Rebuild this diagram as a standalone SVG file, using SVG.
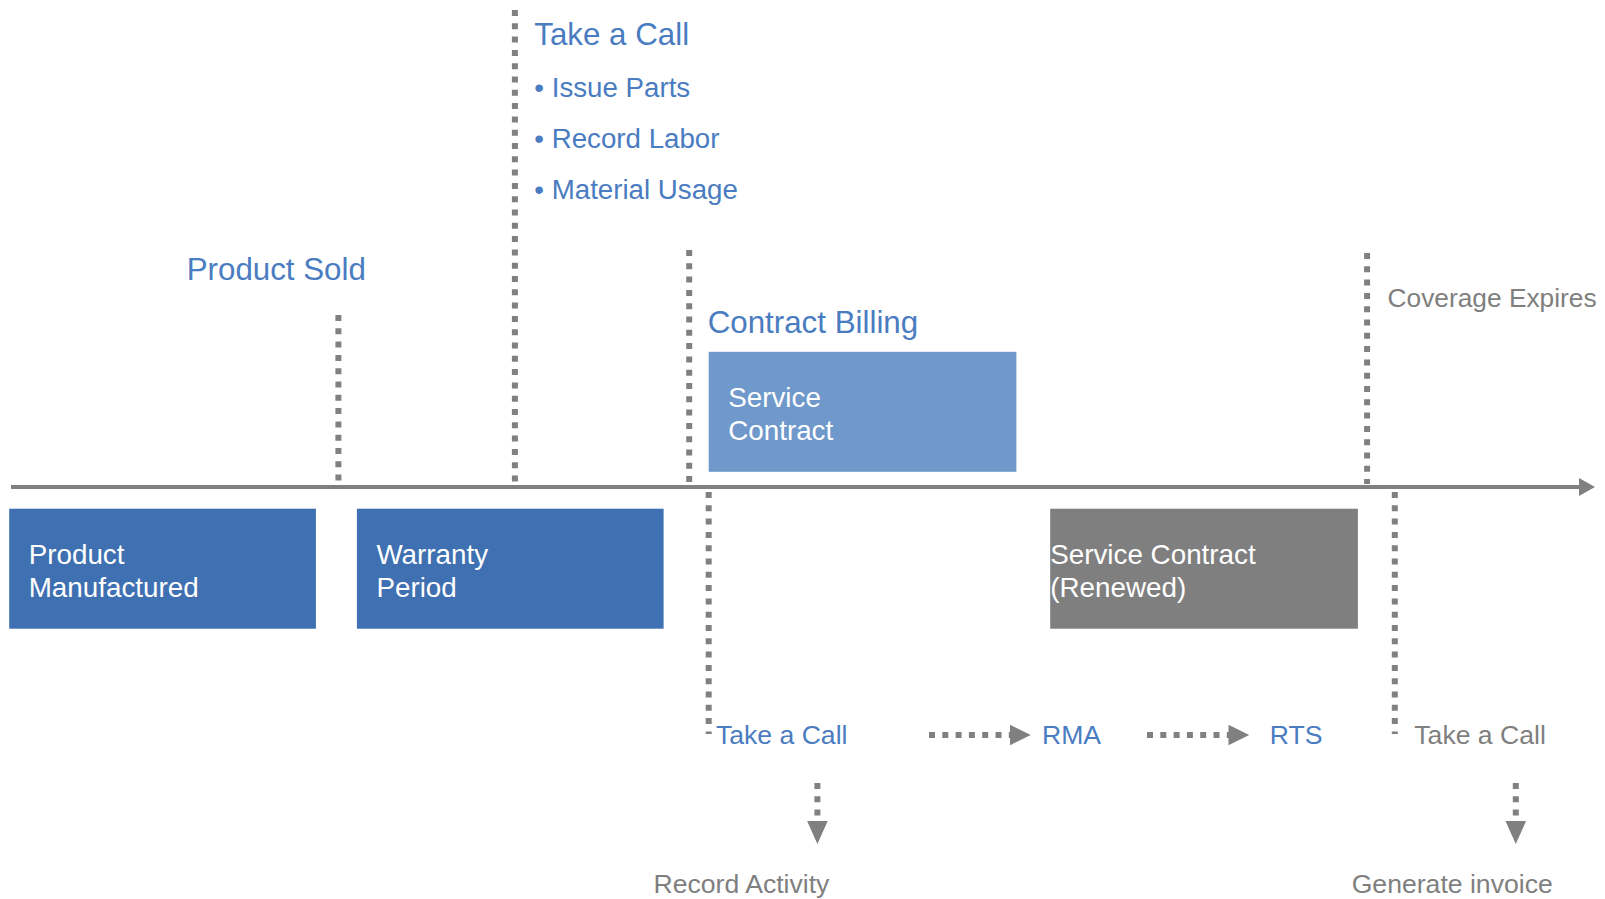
<svg xmlns="http://www.w3.org/2000/svg" width="1605" height="899" viewBox="0 0 1605 899">
<defs>
<style>
text{font-family:"Liberation Sans",Arial,sans-serif}
.h{font-size:31.3px;fill:#4A7CC1}
.b{font-size:27.7px;fill:#4A7CC1}
.s{font-size:26.6px;fill:#4A7CC1}
.g{font-size:26.6px;fill:#7F7F7F}
.w{font-size:27.8px;fill:#FFFFFF}
.dot{stroke:#808080;stroke-width:6;stroke-dasharray:6 7.3;fill:none}
.ah{fill:#808080}
</style>
</defs>
<rect width="1605" height="899" fill="#FFFFFF"/>
<g id="connectors">
<line x1="11" y1="487" x2="1581" y2="487" stroke="#808080" stroke-width="4.2"/>
<polygon class="ah" points="1579,478 1595,487 1579,496"/>
<line class="dot" x1="338.4" y1="315" x2="338.4" y2="482"/>
<line class="dot" x1="514.9" y1="10" x2="514.9" y2="482"/>
<line class="dot" x1="689.2" y1="250" x2="689.2" y2="482"/>
<line class="dot" x1="1367.1" y1="253" x2="1367.1" y2="484"/>
<line class="dot" x1="708.7" y1="492" x2="708.7" y2="734"/>
<line class="dot" x1="1394.8" y1="492" x2="1394.8" y2="734"/>
<line class="dot" x1="929" y1="735" x2="1011" y2="735"/>
<polygon class="ah" points="1010,724.7 1030.7,735 1010,745.3"/>
<line class="dot" x1="1147" y1="735" x2="1229" y2="735"/>
<polygon class="ah" points="1228.5,724.7 1249.2,735 1228.5,745.3"/>
<line class="dot" x1="817.4" y1="783" x2="817.4" y2="822"/>
<polygon class="ah" points="807.1,821 817.4,844 827.7,821"/>
<line class="dot" x1="1515.8" y1="783" x2="1515.8" y2="822"/>
<polygon class="ah" points="1505.5,821 1515.8,844 1526.1,821"/>
</g>
<g id="product-manufactured">
<rect x="9.2" y="508.7" width="306.7" height="120" fill="#3F70B1"/>
<text class="w" x="28.7" y="564">Product</text>
<text class="w" x="28.7" y="597">Manufactured</text>
</g>
<g id="warranty-period">
<rect x="356.9" y="508.7" width="306.7" height="120" fill="#3F70B1"/>
<text class="w" x="376.4" y="564">Warranty</text>
<text class="w" x="376.4" y="597">Period</text>
</g>
<g id="service-contract">
<rect x="708.7" y="351.8" width="307.7" height="120" fill="#6F98CB"/>
<text class="w" x="728.2" y="407">Service</text>
<text class="w" x="728.2" y="440">Contract</text>
</g>
<g id="service-contract-renewed">
<rect x="1050.2" y="508.7" width="307.7" height="120" fill="#7F7F7F"/>
<text class="w" x="1050.2" y="564">Service Contract</text>
<text class="w" x="1050.2" y="597">(Renewed)</text>
</g>
<g id="take-a-call-top">
<text class="h" x="534.3" y="45">Take a Call</text>
<text class="b" x="534.3" y="97.4">• Issue Parts</text>
<text class="b" x="534.3" y="147.7">• Record Labor</text>
<text class="b" x="534.3" y="199">• Material Usage</text>
</g>
<g id="product-sold"><text class="h" x="186.7" y="280">Product Sold</text></g>
<g id="contract-billing"><text class="h" x="707.7" y="333.3">Contract Billing</text></g>
<g id="coverage-expires"><text class="g" x="1387.6" y="306.7" style="font-size:26.3px">Coverage Expires</text></g>
<g id="take-a-call-bottom"><text class="s" x="715.9" y="743.6">Take a Call</text></g>
<g id="rma"><text class="s" x="1042" y="743.6">RMA</text></g>
<g id="rts"><text class="s" x="1269.7" y="743.6">RTS</text></g>
<g id="take-a-call-gray"><text class="g" x="1414.3" y="743.6">Take a Call</text></g>
<g id="record-activity"><text class="g" x="653.5" y="893">Record Activity</text></g>
<g id="generate-invoice"><text class="g" x="1351.7" y="893">Generate invoice</text></g>
</svg>
